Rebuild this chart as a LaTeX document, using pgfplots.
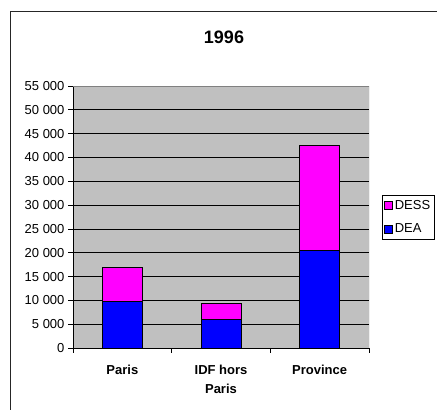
\documentclass[border=0pt]{standalone}
\usepackage{pgfplots}
\pgfplotsset{compat=1.18}
\usepackage{fontspec}
\setmainfont{Liberation Sans}
\definecolor{plotgray}{RGB}{192,192,192}
\definecolor{xlblue}{RGB}{0,0,255}
\definecolor{xlmag}{RGB}{255,0,255}
\begin{document}
\begin{tikzpicture}[x=1pt,y=1pt]
\path[use as bounding box, clip] (0,0) rectangle (437,410);
\draw[line width=1pt, black!85] (10,-10) -- (10,398.3) -- (450,398.3);
\node[font=\fontsize{18}{20}\selectfont\bfseries] at (224,372.3) {1996};
\begin{axis}[
  at={(73pt,62pt)}, anchor=south west,
  scale only axis, width=296pt, height=262pt,
  ybar stacked, bar width=40pt,
  xmin=-0.5, xmax=2.5, ymin=0, ymax=55000,
  axis background/.style={fill=plotgray},
  axis x line*=bottom, axis y line*=left,
  axis line style={black, line width=0.8pt},
  xtick={-0.5,0.5,1.5,2.5}, xticklabels={},
  extra x ticks={0,1,2},
  extra x tick labels={Paris,{IDF hors\\Paris},Province},
  extra x tick style={major tick length=0pt, grid=none,
    xticklabel style={font=\fontsize{13}{19}\selectfont\bfseries, align=center, anchor=north, yshift=-14pt}},
  ytick={0,5000,...,55000},
  tick align=outside, major tick length=5pt,
  tick style={black, line width=0.8pt},
  ymajorgrids, grid style={black, line width=0.8pt},
  yticklabel style={font=\fontsize{13}{15}\selectfont},
  /pgf/number format/assume math mode=true,
  /pgf/number format/1000 sep={\ },
  scaled y ticks=false,
  reverse legend,
  legend style={at={(1.045,0.584)}, anchor=north west, draw=black, fill=white,
    font=\fontsize{13}{15}\selectfont, inner xsep=1.5pt, inner ysep=3pt, row sep=9pt,
    legend cell align=left},
  legend image code/.code={\draw[#1, line width=0.8pt] (0pt,-4pt) rectangle (8pt,4pt);},
]
\addplot[fill=xlblue, draw=black, line width=0.8pt] coordinates {(0,9700) (1,6000) (2,20400)};
\addlegendentry{DEA}
\addplot[fill=xlmag, draw=black, line width=0.8pt] coordinates {(0,7200) (1,3300) (2,22100)};
\addlegendentry{DESS}
\draw[gray, line width=0.8pt] (rel axis cs:0,1) -- (rel axis cs:1,1) -- (rel axis cs:1,0);
\end{axis}
\end{tikzpicture}
\end{document}
